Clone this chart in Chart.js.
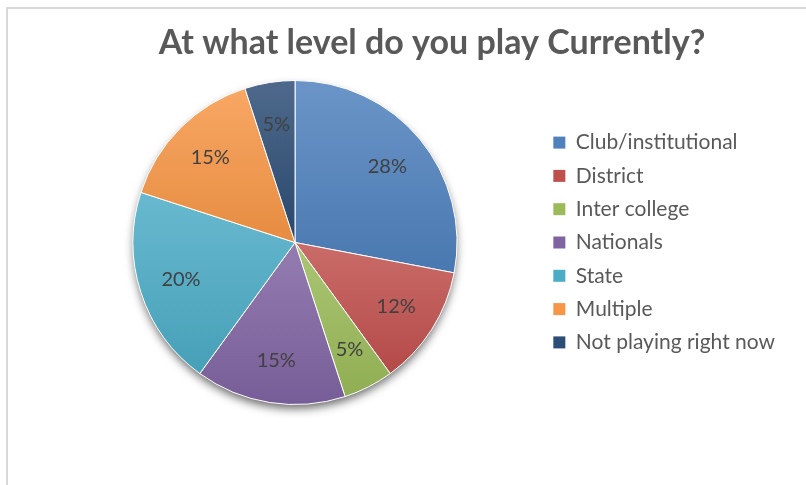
<!DOCTYPE html>
<html>
<head>
<meta charset="utf-8">
<script src="https://cdn.jsdelivr.net/npm/chart.js@4.4.1/dist/chart.umd.min.js"></script>
<style>
html, body { margin: 0; padding: 0; background: #fff; }
#wrap { position: relative; width: 806px; height: 485px; }
#frame { position: absolute; left: 6px; top: 7px; right: 0; bottom: 0;
  border-left: 2px solid #d9d9d9; border-top: 2px solid #d9d9d9; pointer-events: none; }
</style>
</head>
<body>
<div id="wrap">
  <canvas id="levelPie" width="806" height="485"></canvas>
  <div id="frame"></div>
</div>
<script>
const chartTitle = 'At what level do you play Currently?';
const levelLabels = ['Club/institutional', 'District', 'Inter college', 'Nationals', 'State', 'Multiple', 'Not playing right now'];
const levelShares = [28, 12, 5, 15, 20, 15, 5];
const levelColors = ['#4F81BD', '#C0504D', '#9BBB59', '#8064A2', '#4BACC6', '#F79646', '#2C4D75'];

function mix(hex, other, t) {
  const a = parseInt(hex.slice(1), 16), b = parseInt(other.slice(1), 16);
  const ch = s => Math.round(((a >> s) & 255) * (1 - t) + ((b >> s) & 255) * t);
  return 'rgb(' + ch(16) + ',' + ch(8) + ',' + ch(0) + ')';
}

// excel-like gradient, lighter on top of each slice
function sliceFill(context) {
  const i = context.dataIndex;
  const base = levelColors[i];
  const area = context.chart.chartArea;
  if (!area || i === undefined) return base;
  const cy = (area.top + area.bottom) / 2;
  const r = Math.min(area.right - area.left, area.bottom - area.top) / 2;
  const total = levelShares.reduce((s, v) => s + v, 0);
  let before = 0;
  for (let k = 0; k < i; k++) before += levelShares[k];
  const a0 = -Math.PI / 2 + 2 * Math.PI * before / total;
  const a1 = a0 + 2 * Math.PI * levelShares[i] / total;
  const ys = [cy, cy + r * Math.sin(a0), cy + r * Math.sin(a1)];
  [Math.PI / 2, 1.5 * Math.PI].forEach(t => { if (t > a0 && t < a1) ys.push(cy + r * Math.sin(t)); });
  const g = context.chart.ctx.createLinearGradient(0, Math.min(...ys), 0, Math.max(...ys));
  g.addColorStop(0, mix(base, '#ffffff', 0.16));
  g.addColorStop(1, mix(base, '#000000', 0.07));
  return g;
}

const pieShadow = {
  id: 'pieShadow',
  beforeDatasetsDraw(chart) {
    const arc = chart.getDatasetMeta(0).data[0];
    if (!arc) return;
    const p = arc.getProps(['x', 'y', 'outerRadius'], true);
    const ctx = chart.ctx;
    ctx.save();
    ctx.shadowColor = 'rgba(0,0,0,0.6)';
    ctx.shadowBlur = 10;
    ctx.shadowOffsetY = 5;
    ctx.fillStyle = '#ffffff';
    ctx.beginPath();
    ctx.arc(p.x, p.y, p.outerRadius - 1, 0, Math.PI * 2);
    ctx.fill();
    ctx.restore();
  }
};

const sliceLabels = {
  id: 'sliceLabels',
  afterDatasetsDraw(chart) {
    const ctx = chart.ctx;
    ctx.save();
    ctx.font = '20px Lato';
    ctx.fillStyle = '#404040';
    ctx.textAlign = 'center';
    ctx.textBaseline = 'middle';
    chart.getDatasetMeta(0).data.forEach((arc, i) => {
      const p = arc.getProps(['x', 'y', 'startAngle', 'endAngle', 'outerRadius'], true);
      const mid = (p.startAngle + p.endAngle) / 2;
      const d = p.outerRadius * 0.74;
      ctx.fillText(levelShares[i] + '%', p.x + d * Math.cos(mid), p.y + d * Math.sin(mid));
    });
    ctx.restore();
  }
};

// heading sits off-centre in the original, so it is drawn here
const heading = {
  id: 'heading',
  afterDraw(chart) {
    const ctx = chart.ctx;
    ctx.save();
    ctx.font = 'bold 34px Lato';
    ctx.fillStyle = '#595959';
    ctx.textAlign = 'center';
    ctx.textBaseline = 'alphabetic';
    ctx.fillText(chartTitle, 432, 54);
    ctx.restore();
  }
};

const ctxLevelPie = document.getElementById('levelPie');

const levelPie = new Chart(ctxLevelPie, {
  type: 'pie',
  data: {
    labels: levelLabels,
    datasets: [{
      data: levelShares,
      backgroundColor: sliceFill,
      borderColor: '#ffffff',
      borderWidth: 1
    }]
  },
  plugins: [pieShadow, sliceLabels, heading],
  options: {
    responsive: false,
    animation: false,
    layout: {
      padding: { left: 49, right: 21, top: 80, bottom: 80 }
    },
    plugins: {
      title: { display: false },
      legend: {
        position: 'right',
        labels: {
          boxWidth: 12,
          boxHeight: 12,
          padding: 12.3,
          color: '#595959',
          font: { family: 'Lato', size: 21 },
          generateLabels: () => levelLabels.map((t, i) => ({
            text: t, fillStyle: levelColors[i], strokeStyle: levelColors[i],
            lineWidth: 0, hidden: false, index: i, fontColor: '#595959'
          }))
        }
      },
      tooltip: { enabled: false }
    }
  }
});
</script>
</body>
</html>
